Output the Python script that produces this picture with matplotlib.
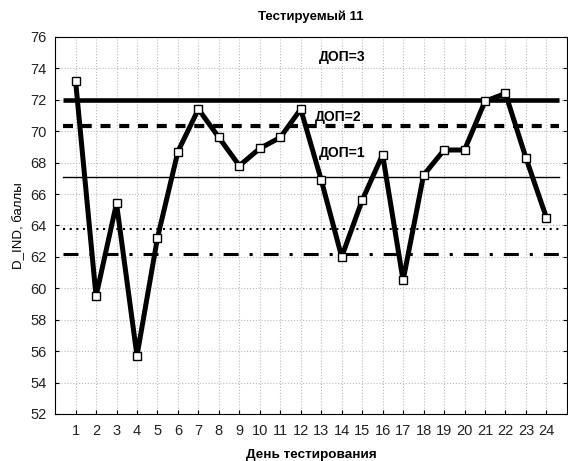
import matplotlib
matplotlib.use("Agg")
import matplotlib.pyplot as plt

plt.rcParams['font.family'] = ['Liberation Sans', 'DejaVu Sans']

days = list(range(1, 25))
d_ind = [73.2, 59.5, 65.4, 55.7, 63.2, 68.7, 71.4, 69.6, 67.8, 68.9, 69.6, 71.4,
         66.9, 62.0, 65.6, 68.5, 60.5, 67.2, 68.8, 68.8, 71.9, 72.4, 68.3, 64.5]

# control levels
dop3 = 72.0
dop2 = 70.35
dop1 = 67.07
low1 = 63.75
low2 = 62.16

fig = plt.figure(figsize=(5.68, 4.61), dpi=100)
ax = fig.add_axes([0.097, 0.102, 0.901, 0.818])

x0, x1 = 0.4, 24.6
ax.plot([x0, x1], [dop3, dop3], color='black', lw=3.3, solid_capstyle='butt')
ax.plot([x0, x1], [dop2, dop2], color='black', lw=3.0, ls=(0, (2.4, 2.1)))
ax.plot([x0, x1], [dop1, dop1], color='black', lw=1.0)
ax.plot([x0, x1], [low1, low1], color='black', lw=1.5, ls=(0, (1.0, 2.2)))
ax.plot([x0, x1], [low2, low2], color='black', lw=2.2, ls=(0, (4.9, 3.6, 1.0, 3.6)))

ax.plot(days, d_ind, color='black', lw=3.6, marker='s', ms=5.5,
        mfc='white', mec='black', mew=1.0, zorder=5)

ax.text(12.9, 74.7, 'ДОП=3', fontsize=10, fontweight='bold', va='center')
ax.text(12.7, 70.9, 'ДОП=2', fontsize=10, fontweight='bold', va='center')
ax.text(12.9, 68.6, 'ДОП=1', fontsize=10, fontweight='bold', va='center')

ax.set_xlim(0, 25)
ax.set_ylim(52, 76)
ax.set_xticks(days)
ax.set_yticks(range(52, 77, 2))
ax.tick_params(direction='in', length=3, labelsize=10.5, labelcolor='#222222',
               right=True, labelright=False)
ax.tick_params(axis='x', pad=7)
ax.tick_params(axis='y', pad=6)
ax.grid(True, color='#bbbbbb', ls=':', lw=0.8)
ax.set_axisbelow(True)

ax.set_title('Тестируемый 11', fontsize=9.5, fontweight='bold', pad=12)
ax.set_xlabel('День тестирования', fontsize=9.7, fontweight='bold', labelpad=8)
ax.set_ylabel('D_IND, баллы', fontsize=9.5)

fig.savefig('out.png', dpi=100)
